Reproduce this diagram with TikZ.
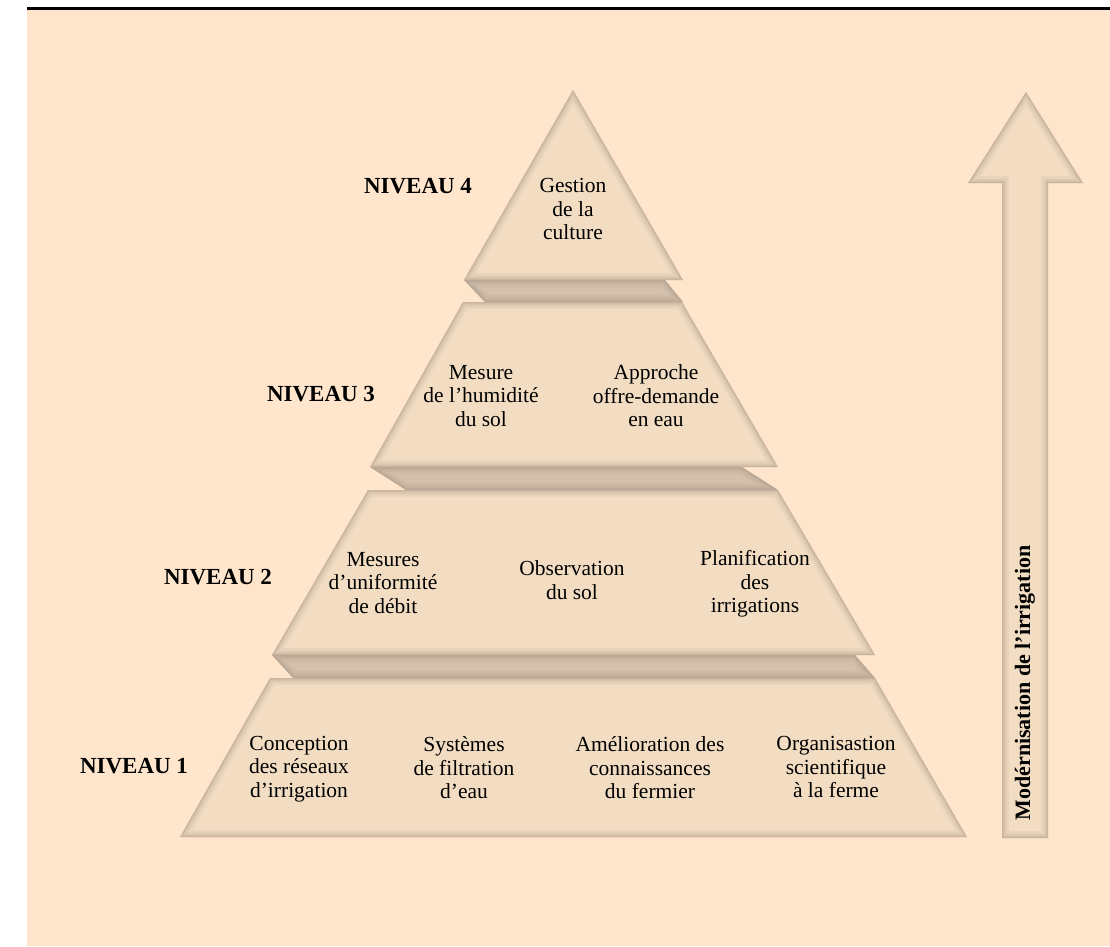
\documentclass[tikz,border=0pt]{standalone}
\usepackage{fontspec}
\setmainfont{Liberation Serif}
\definecolor{bgc}{HTML}{FEE5CB}
\definecolor{facec}{HTML}{F2DDC3}
\definecolor{bandc}{HTML}{D3C1AD}
\definecolor{shadec}{HTML}{9E8C7A}
\newcommand\shadedshape[2]{%
  \begin{scope}
    \clip #2;
    \fill[#1] #2;
    \draw[shadec, line width=14, opacity=0.10, line join=miter] #2;
    \draw[shadec, line width=9, opacity=0.12, line join=miter] #2;
    \draw[shadec, line width=5, opacity=0.15, line join=miter] #2;
    \draw[shadec, line width=2.5, opacity=0.2, line join=miter] #2;
  \end{scope}}
\tikzset{
  facetext/.style={align=center, font=\fontsize{21.5}{23.5}\selectfont, inner sep=0pt,
    execute at begin node=\strut, execute at end node=\strut},
  levellabel/.style={font=\fontsize{23}{26}\selectfont\bfseries, inner sep=0pt},
  arrowtext/.style={font=\fontsize{22}{26}\selectfont\bfseries, rotate=90, inner sep=0pt}
}
\begin{document}
\begin{tikzpicture}[x=1pt,y=-1pt]
\useasboundingbox (0,0) rectangle (1110,946);
% background
\fill[bgc] (27,9) rectangle (1110,946);
\fill[black] (27,7) rectangle (1110,10);
% bands
\shadedshape{bandc}{(464,280) -- (665,280) -- (683,302) -- (485,302) -- cycle}
\shadedshape{bandc}{(370,467) -- (742,467) -- (778,490) -- (406,490) -- cycle}
\shadedshape{bandc}{(272,655) -- (855,655) -- (875,678) -- (293,678) -- cycle}
% faces
\shadedshape{facec}{(573,90) -- (683,280) -- (464,280) -- cycle}
\shadedshape{facec}{(463,302) -- (682,302) -- (778,467) -- (370,467) -- cycle}
\shadedshape{facec}{(368,490) -- (778,490) -- (875,655) -- (272,655) -- cycle}
\shadedshape{facec}{(270,678) -- (875,678) -- (967,837) -- (180,837) -- cycle}
% arrow
\shadedshape{facec}{(1026,92) -- (1083,183) -- (1048,183) -- (1048,838) -- (1002,838) -- (1002,183) -- (968,183) -- cycle}
% level labels
\node[levellabel] (l4) at (418,186) {NIVEAU 4};
\node[levellabel] (l3) at (321,394) {NIVEAU 3};
\node[levellabel] (l2) at (218,577) {NIVEAU 2};
\node[levellabel] (l1) at (134,766) {NIVEAU 1};
% level 4
\node[facetext] (g) at (573,212.8) {Gestion\\de la\\culture};
% level 3
\node[facetext] (h) at (481,399.3) {Mesure\\de l’humidité\\du sol};
\node[facetext] (o) at (656,399.3) {Approche\\offre-demande\\en eau};
% level 2
\node[facetext] (u) at (383,586.3) {Mesures\\d’uniformité\\de débit};
\node[facetext] (s) at (572,583.8) {Observation\\du sol};
\node[facetext] (p) at (755,585.3) {Planification\\des\\irrigations};
% level 1
\node[facetext] (c) at (299,770.3) {Conception\\des réseaux\\d’irrigation};
\node[facetext] (f) at (464,771.3) {Systèmes\\de filtration\\d’eau};
\node[facetext] (a) at (650,771.3) {Amélioration des\\connaissances\\du fermier};
\node[facetext] (z) at (836,770.8) {Organisastion\\scientifique\\à la ferme};
% arrow text
\node[arrowtext] (m) at (1025,683) {Modérnisation de l’irrigation};
\end{tikzpicture}
\end{document}
